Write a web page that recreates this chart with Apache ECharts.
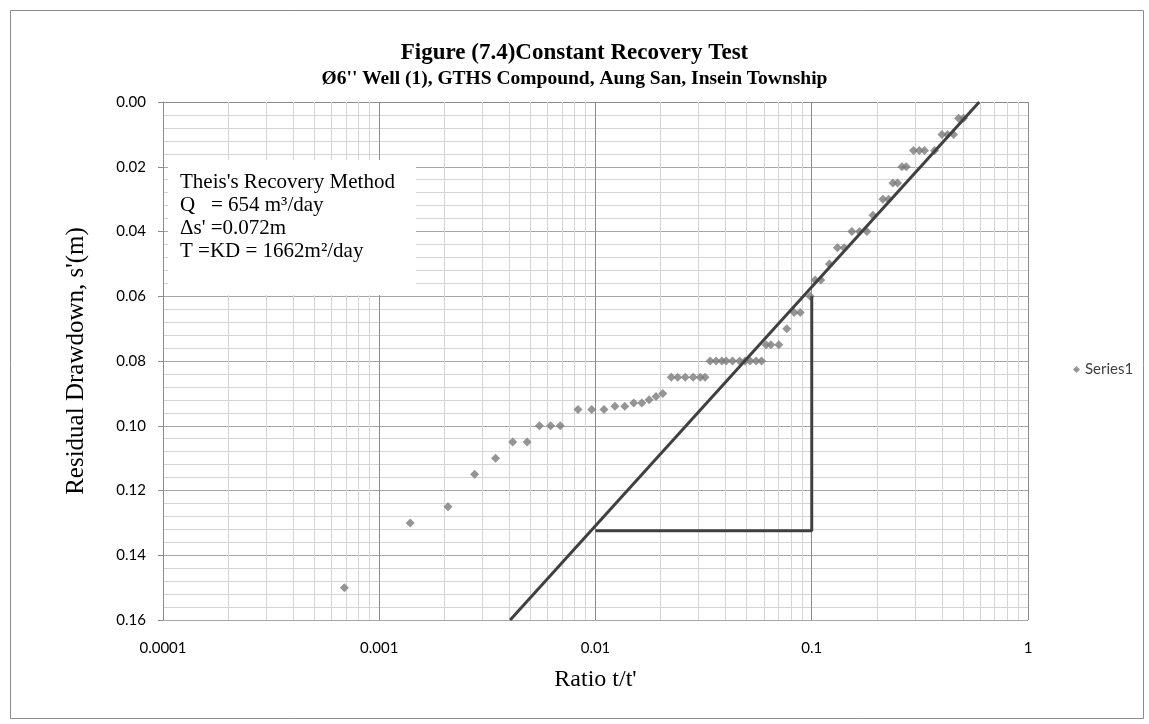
<!DOCTYPE html>
<html>
<head>
<meta charset="utf-8">
<script src="https://cdn.jsdelivr.net/npm/echarts@6/dist/echarts.min.js"></script>
<style>html,body{margin:0;padding:0;background:#fff}#c{width:1149px;height:724px}</style>
</head>
<body>
<div id="c"></div>
<script>
// ---- data ----
const ratioTt = [0.00069,0.00139,0.00208,0.00276,0.00345,0.00414,0.00483,0.0055,0.0062,0.00687,
  0.0083,0.0096,0.01095,0.0123,0.01365,0.01503,0.01637,0.0177,0.01905,0.02046,
  0.0224,0.024,0.026,0.0283,0.0305,0.0321,
  0.0339,0.0361,0.0384,0.0402,0.043,0.0464,0.0492,0.0519,0.0553,0.0586,
  0.0615,0.0647,0.0704,0.0767,0.0829,0.0884,0.0983,0.1037,0.1102,0.1207,0.1315,0.1413,
  0.1533,0.1662,0.1798,0.1918,0.2134,0.2266,0.2373,0.2493,0.2612,0.2735,
  0.2955,0.3141,0.3323,0.3698,0.400,0.4246,0.4527,0.4774,0.5035];
const drawdown = [0.150,0.130,0.125,0.115,0.110,0.105,0.105,0.100,0.100,0.100,
  0.095,0.095,0.095,0.094,0.094,0.093,0.093,0.092,0.091,0.090,
  0.085,0.085,0.085,0.085,0.085,0.085,
  0.080,0.080,0.080,0.080,0.080,0.080,0.080,0.080,0.080,0.080,
  0.075,0.075,0.075,0.070,0.065,0.065,0.060,0.055,0.055,0.050,0.045,0.045,
  0.040,0.040,0.040,0.035,0.030,0.030,0.025,0.025,0.020,0.020,
  0.015,0.015,0.015,0.015,0.010,0.010,0.010,0.005,0.005];
const fitLineX = [0.00403, 0.595];
const fitLineY = [0.160, 0.000];
const triangleX = [0.1, 0.1, 0.01];
const triangleY = [0.060, 0.1324, 0.1324];
const xTickLabels = ['0.0001','0.001','0.01','0.1','1'];
const titleLine1 = "Figure (7.4)Constant Recovery Test";
const titleLine2 = "Ø6'' Well (1), GTHS Compound, Aung San, Insein Township";
const noteLines = ["Theis's Recovery Method", "Q   = 654 m³/day", "Δs' =0.072m", "T =KD = 1662m²/day"];
const seriesName = 'Series1';

// ---- build ----
const yMin = 0, yMax = 0.16;
const pts = ratioTt.map((x, i) => [x, drawdown[i]]);
const fit = fitLineX.map((x, i) => [x, fitLineY[i]]);
const tri = triangleX.map((x, i) => [x, triangleY[i]]);
const minorX = [];
for (let d = -4; d < 0; d++) for (let k = 2; k <= 9; k++) {
  const x = k * Math.pow(10, d);
  minorX.push({ coords: [[x, yMin], [x, yMax]] });
}

const chart = echarts.init(document.getElementById('c'));
const serif = '"Liberation Serif","Times New Roman",serif';
const sans = 'Lato, "Open Sans", sans-serif';
chart.setOption({
  animation: false,
  backgroundColor: '#fff',
  title: {
    text: '{a|' + titleLine1 + '}\n{b|' + titleLine2 + '}', left: 'center', top: 35,
    textStyle: { rich: {
      a: { fontFamily: serif, fontWeight: 'bold', fontSize: 23, lineHeight: 26, color: '#000', align: 'center' },
      b: { fontFamily: serif, fontWeight: 'bold', fontSize: 19.5, lineHeight: 26, color: '#000', align: 'center' }
    } }
  },
  legend: {
    data: [{ name: seriesName, icon: 'diamond' }], left: 1068, top: 357, itemWidth: 7, itemHeight: 7, itemGap: 5,
    textStyle: { fontFamily: sans, fontSize: 15, color: '#404040' }
  },
  grid: { left: 163, right: 121, top: 102, bottom: 104 },
  xAxis: {
    type: 'log', logBase: 10, min: 0.0001, max: 1,
    name: 'Ratio t/t\'', nameLocation: 'middle', nameGap: 48,
    nameTextStyle: { fontFamily: serif, fontSize: 24, color: '#000' },
    axisLine: { show: true, lineStyle: { color: '#8c8c8c' } },
    axisTick: { show: false },
    axisLabel: { margin: 21, fontFamily: sans, fontSize: 15, color: '#000',
      formatter: v => { const i = Math.round(Math.log10(v)) + 4; return xTickLabels[i] || ''; } },
    splitLine: { show: true, lineStyle: { color: '#8c8c8c', width: 1 } }
  },
  yAxis: {
    type: 'value', inverse: true, min: yMin, max: yMax, interval: 0.02,
    name: "Residual Drawdown, s'(m)", nameLocation: 'middle', nameGap: 74, nameRotate: 90,
    nameTextStyle: { fontFamily: serif, fontSize: 25, color: '#000' },
    axisLine: { show: true, lineStyle: { color: '#8c8c8c' } },
    axisTick: { show: true, length: 5, inside: false, lineStyle: { color: '#8c8c8c' } },
    minorTick: { show: false, splitNumber: 5 },
    minorSplitLine: { show: true, lineStyle: { color: '#d4d4d4', width: 1 } },
    axisLabel: { margin: 17, fontFamily: sans, fontSize: 15, color: '#000', formatter: v => v.toFixed(2) },
    splitLine: { show: true, lineStyle: { color: '#a6a6a6', width: 1 } }
  },
  series: [
    {
      type: 'lines', coordinateSystem: 'cartesian2d', data: minorX, silent: true, z: 1,
      symbol: 'none', lineStyle: { color: '#d4d4d4', width: 1, opacity: 1 }
    },
    {
      name: seriesName, type: 'scatter', data: pts, symbol: 'diamond', symbolSize: 9,
      itemStyle: { color: '#7a7a7a' }, z: 3
    },
    {
      type: 'line', data: fit, symbol: 'none', z: 4, silent: true,
      lineStyle: { color: '#404040', width: 3 }
    },
    {
      type: 'line', data: tri, symbol: 'none', z: 4, silent: true,
      lineStyle: { color: '#404040', width: 3 }
    }
  ],
  graphic: [
    { type: 'rect', left: 8, top: 8, shape: { width: 1133, height: 708 }, style: { fill: 'none', stroke: '#8c8c8c', lineWidth: 1 }, z: 0 },
    { type: 'rect', left: 168, top: 160, shape: { width: 248, height: 135 }, style: { fill: '#fff', stroke: null }, z: 10 },
    { type: 'text', left: 180, top: 171, z: 11,
      style: { text: noteLines.join('\n'), fontFamily: serif, fontSize: 21, lineHeight: 23, fill: '#000' } }
  ]
});
</script>
</body>
</html>
